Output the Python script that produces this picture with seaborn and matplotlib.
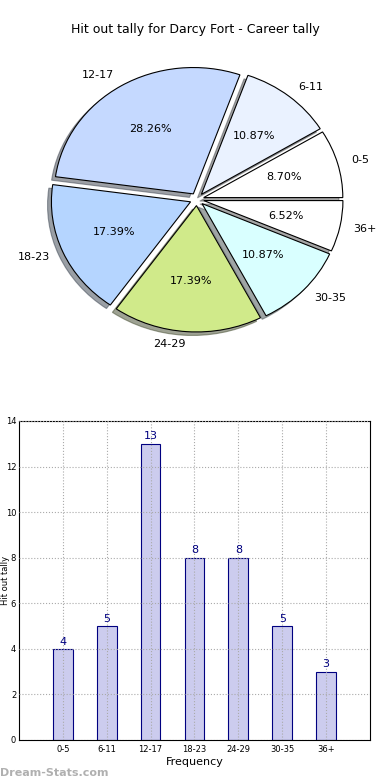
import matplotlib
matplotlib.use("Agg")
import matplotlib.pyplot as plt
import seaborn as sns
import pandas as pd

categories = ["0-5", "6-11", "12-17", "18-23", "24-29", "30-35", "36+"]
counts = [4, 5, 13, 8, 8, 5, 3]
slice_colors = ["#ffffff", "#eaf2ff", "#c5d9ff", "#b5d5ff", "#d0ea8a", "#d9ffff", "#ffffff"]
title = "Hit out tally for Darcy Fort - Career tally"

sns.set_style("white")
plt.rcParams['font.family'] = ['DejaVu Sans']
plt.rcParams['text.color'] = 'black'
plt.rcParams['xtick.color'] = 'black'
plt.rcParams['ytick.color'] = 'black'
plt.rcParams['axes.labelcolor'] = 'black'

fig = plt.figure(figsize=(3.9, 7.8), dpi=100)

# Pie chart
axp = fig.add_axes([0.059, 0.542, 0.892, 0.405])
wedges, texts, autotexts = axp.pie(
    counts, labels=categories, colors=slice_colors, autopct="%.2f%%",
    startangle=0, explode=[0.05] * len(counts), shadow=True,
    wedgeprops=dict(edgecolor="black", linewidth=0.8),
    textprops=dict(fontsize=8, color="black"), labeldistance=1.1, pctdistance=0.6)
axp.set_aspect("auto")
axp.set_xlim(-1.25, 1.25)
axp.set_ylim(-1.25, 1.25)
fig.text(0.5, 0.962, title, ha="center", va="center", fontsize=9, color="black")

# Bar chart
df = pd.DataFrame({"range": categories, "count": counts})
axb = fig.add_axes([0.0487, 0.0513, 0.9, 0.409])
sns.barplot(data=df, x="range", y="count", ax=axb, color="#ccccee",
            saturation=1, edgecolor="#000080", linewidth=0.8, width=0.45)
axb.set_xlim(-1, 7)
axb.set_ylim(0, 14)
axb.set_yticks(range(0, 15, 2))
axb.tick_params(axis="both", labelsize=6, length=3, direction="in")
axb.tick_params(axis="y", pad=2)
axb.grid(True, linestyle=":", color="#aaaaaa", linewidth=0.8)
axb.set_axisbelow(False)
for s in axb.spines.values():
    s.set_color("black")
    s.set_linewidth(0.8)
for i, v in enumerate(counts):
    axb.text(i, v + 0.1, str(v), ha="center", va="bottom", fontsize=8, color="#000080")
axb.set_xlabel("Frequency", fontsize=8, labelpad=2)
axb.set_ylabel("Hit out tally", fontsize=6)
axb.yaxis.set_label_coords(-0.027, 0.5)

fig.text(0.0, 0.003, "Dream-Stats.com", fontsize=8, color="#b0b0b0", fontweight="bold",
         ha="left", va="bottom")

fig.savefig("out.png", dpi=100)
